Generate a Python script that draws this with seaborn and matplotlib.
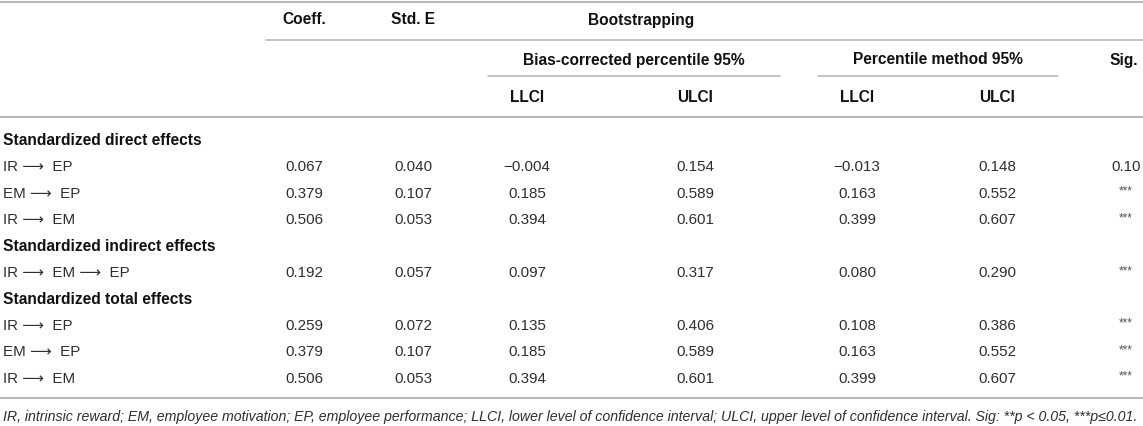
"""
Mediation table: direct, indirect and total effects with bootstrap CIs
"""

import matplotlib.pyplot as plt
import seaborn as sns
import pandas as pd

# table values
sections = ["Standardized direct effects",
            "Standardized indirect effects",
            "Standardized total effects"]
section_sizes = [3, 1, 3]
paths = [["IR", "EP"], ["EM", "EP"], ["IR", "EM"],
         ["IR", "EM", "EP"],
         ["IR", "EP"], ["EM", "EP"], ["IR", "EM"]]
coeff = [0.067, 0.379, 0.506, 0.192, 0.259, 0.379, 0.506]
std_e = [0.040, 0.107, 0.053, 0.057, 0.072, 0.107, 0.053]
bc_llci = [-0.004, 0.185, 0.394, 0.097, 0.135, 0.185, 0.394]
bc_ulci = [0.154, 0.589, 0.601, 0.317, 0.406, 0.589, 0.601]
pm_llci = [-0.013, 0.163, 0.399, 0.080, 0.108, 0.163, 0.399]
pm_ulci = [0.148, 0.552, 0.607, 0.290, 0.386, 0.552, 0.607]
sig = ["0.10", "***", "***", "***", "***", "***", "***"]

footnote = ("IR, intrinsic reward; EM, employee motivation; EP, employee performance; "
            "LLCI, lower level of confidence interval; ULCI, upper level of confidence "
            "interval. Sig: **p < 0.05, ***p\u22640.01.")

df = pd.DataFrame({"path": [" \u27f6  ".join(p) for p in paths],
                   "Coeff.": coeff, "Std. E": std_e,
                   "bc_llci": bc_llci, "bc_ulci": bc_ulci,
                   "pm_llci": pm_llci, "pm_ulci": pm_ulci, "Sig.": sig})

sns.set_theme(style="white")
plt.rcParams["font.family"] = ["Liberation Sans", "DejaVu Sans"]

TXT = "#2e2e2e"
RULE = "#b4b4b4"
FS = 10.9
FSB = 11.2

fig = plt.figure(figsize=(11.43, 4.27), dpi=100)
ax = fig.add_axes([0, 0, 1, 1])
ax.set_xlim(0, 1143)
ax.set_ylim(427, 0)
ax.axis("off")

# column centres (pixels)
col_x = {"Coeff.": 304, "Std. E": 413, "bc_llci": 527, "bc_ulci": 695,
         "pm_llci": 857, "pm_ulci": 997, "Sig.": 1126}


def fmt(v):
    s = "%.3f" % abs(v)
    return ("\u2212" + s) if v < 0 else s


# rules
ax.plot([0, 1143], [3, 3], color=RULE, lw=1.4)
ax.plot([266, 1143], [41, 41], color=RULE, lw=1.1)
ax.plot([488, 780], [77, 77], color=RULE, lw=1.1)
ax.plot([818, 1058], [77, 77], color=RULE, lw=1.1)
ax.plot([0, 1143], [118, 118], color=RULE, lw=1.4)
ax.plot([0, 1143], [399, 399], color=RULE, lw=1.4)

# headers
hd = dict(fontsize=FSB, fontweight="bold", color="#111111", va="center")
ax.text(col_x["Coeff."], 20, "Coeff.", ha="center", **hd)
ax.text(col_x["Std. E"], 20, "Std. E", ha="center", **hd)
ax.text(588, 20, "Bootstrapping", ha="left", **hd)
ax.text(634, 60, "Bias-corrected percentile 95%", ha="center", **hd)
ax.text(938, 60, "Percentile method 95%", ha="center", **hd)
ax.text(1124, 60, "Sig.", ha="center", **hd)
for key, lab in [("bc_llci", "LLCI"), ("bc_ulci", "ULCI"),
                 ("pm_llci", "LLCI"), ("pm_ulci", "ULCI")]:
    ax.text(col_x[key], 97, lab, ha="center", **hd)

# body
y0, dy = 141, 26.4
line = 0
r = 0
for sec, n in zip(sections, section_sizes):
    y = y0 + dy * line
    ax.text(3, y, sec, ha="left", **hd)
    line += 1
    for _ in range(n):
        y = y0 + dy * line
        row = df.iloc[r]
        ax.text(3, y, row["path"], ha="left", va="center", fontsize=FS, color=TXT)
        for key in ["Coeff.", "Std. E", "bc_llci", "bc_ulci", "pm_llci", "pm_ulci"]:
            ax.text(col_x[key], y, fmt(row[key]), ha="center", va="center",
                    fontsize=FS, color=TXT)
        if row["Sig."] == "***":
            ax.text(col_x["Sig."], y - 2, "***", ha="center", va="center",
                    fontsize=8.5, color="#555555")
        else:
            ax.text(col_x["Sig."], y, row["Sig."], ha="center", va="center",
                    fontsize=FS, color=TXT)
        line += 1
        r += 1

ax.text(3, 417, footnote, ha="left", va="center", fontsize=10.2,
        style="italic", color=TXT)

plt.savefig("out.png", dpi=100)
